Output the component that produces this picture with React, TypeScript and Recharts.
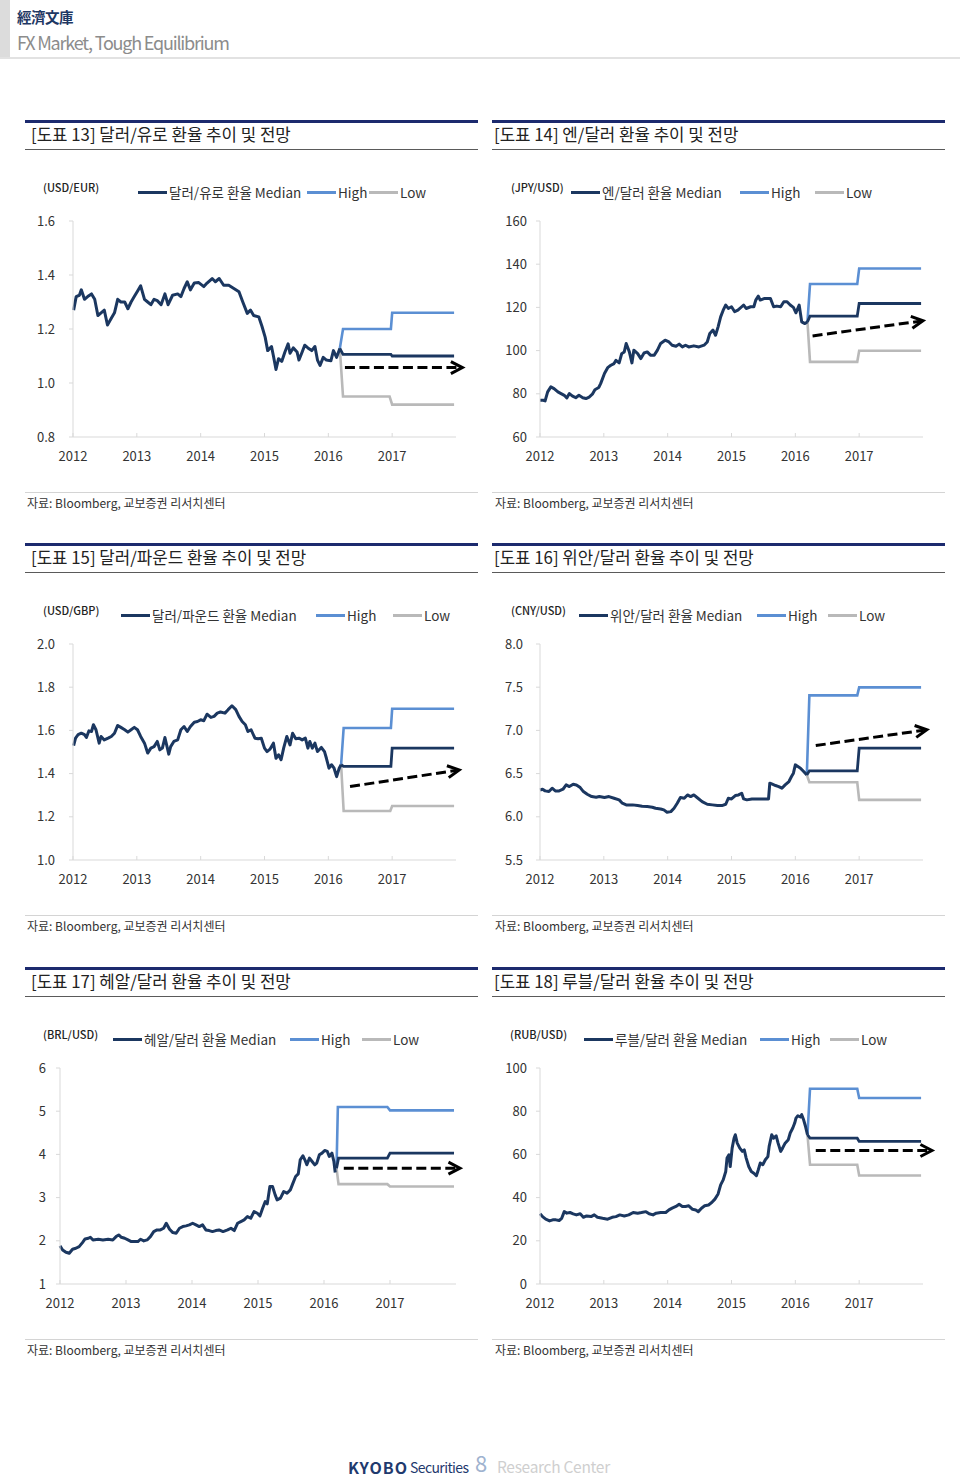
import React from 'react';
import { LineChart, Line, XAxis, YAxis, ReferenceLine } from 'recharts';

type Pt = [number, number];

const FONT = "'Noto Sans CJK KR', 'Noto Sans', sans-serif";
const NAVY = '#1b3760';
const HIGH = '#5b8fd3';
const LOW = '#b9b9b9';
const AXIS = '#d9d9d9';
const TITLE_NAVY = '#1c2a6e';

const YEAR_TICKS = [2012, 2013, 2014, 2015, 2016, 2017];
const X_DOMAIN: [number, number] = [2012, 2018];
const SOURCE_TEXT = '자료: Bloomberg, 교보증권 리서치센터';
const LEGEND_HIGH = 'High';
const LEGEND_LOW = 'Low';

// ---------- USD/EUR ----------
const eurTicks = [0.8, 1.0, 1.2, 1.4, 1.6];
const eurHist: Pt[] = [
  [2012.01, 1.27], [2012.05, 1.32], [2012.1, 1.325], [2012.13, 1.345], [2012.18, 1.31], [2012.23, 1.32],
  [2012.29, 1.33], [2012.34, 1.31], [2012.39, 1.25], [2012.44, 1.26], [2012.49, 1.27], [2012.54, 1.215],
  [2012.6, 1.24], [2012.65, 1.26], [2012.7, 1.31], [2012.75, 1.3], [2012.81, 1.3], [2012.86, 1.275],
  [2012.91, 1.3], [2012.96, 1.32], [2013.01, 1.34], [2013.06, 1.36], [2013.12, 1.31], [2013.17, 1.3],
  [2013.22, 1.29], [2013.27, 1.31], [2013.32, 1.305], [2013.38, 1.29], [2013.44, 1.33], [2013.49, 1.29],
  [2013.56, 1.325], [2013.64, 1.33], [2013.69, 1.32], [2013.74, 1.35], [2013.79, 1.375], [2013.84, 1.345],
  [2013.9, 1.37], [2013.97, 1.372], [2014.05, 1.357], [2014.1, 1.37], [2014.18, 1.387], [2014.23, 1.375],
  [2014.29, 1.387], [2014.36, 1.362], [2014.44, 1.362], [2014.52, 1.35], [2014.6, 1.338], [2014.66, 1.3],
  [2014.73, 1.258], [2014.78, 1.27], [2014.83, 1.25], [2014.91, 1.245], [2014.96, 1.21], [2015.01, 1.17],
  [2015.05, 1.12], [2015.11, 1.135], [2015.14, 1.1], [2015.18, 1.05], [2015.22, 1.09], [2015.27, 1.08],
  [2015.32, 1.115], [2015.37, 1.145], [2015.4, 1.11], [2015.45, 1.13], [2015.51, 1.115], [2015.54, 1.085],
  [2015.59, 1.115], [2015.63, 1.14], [2015.68, 1.13], [2015.74, 1.12], [2015.79, 1.135], [2015.83, 1.085],
  [2015.87, 1.065], [2015.92, 1.095], [2015.97, 1.085], [2016.04, 1.082], [2016.08, 1.12], [2016.13, 1.095],
  [2016.18, 1.128],
];
const eurHigh: Pt[] = [[2016.18, 1.128], [2016.23, 1.2], [2016.98, 1.2], [2017.0, 1.26], [2017.97, 1.26]];
const eurMedian: Pt[] = [[2016.18, 1.128], [2016.23, 1.106], [2016.98, 1.106], [2017.0, 1.1], [2017.97, 1.1]];
const eurLow: Pt[] = [[2016.18, 1.128], [2016.23, 0.95], [2016.96, 0.95], [2017.0, 0.92], [2017.97, 0.92]];
const eurArrow: Pt[] = [[2016.26, 1.057], [2018.1, 1.057]];

// ---------- JPY/USD ----------
const jpyTicks = [60, 80, 100, 120, 140, 160];
const jpyHist: Pt[] = [
  [2012.0, 77.0], [2012.05, 77.0], [2012.08, 76.7], [2012.12, 80.9], [2012.17, 83.2], [2012.22, 82.4],
  [2012.28, 80.9], [2012.33, 80.1], [2012.38, 79.3], [2012.42, 78.1], [2012.46, 80.1], [2012.51, 78.9],
  [2012.56, 78.2], [2012.61, 79.3], [2012.67, 78.2], [2012.72, 77.8], [2012.77, 78.5], [2012.82, 79.8],
  [2012.86, 81.9], [2012.92, 82.9], [2012.95, 84.7], [2013.01, 89.4], [2013.06, 92.1], [2013.11, 93.2],
  [2013.16, 94.0], [2013.19, 95.5], [2013.24, 94.3], [2013.28, 98.6], [2013.32, 99.4], [2013.35, 103.3],
  [2013.4, 99.4], [2013.44, 94.3], [2013.47, 100.2], [2013.53, 98.6], [2013.58, 96.3], [2013.63, 98.9],
  [2013.68, 99.4], [2013.73, 97.9], [2013.79, 97.9], [2013.84, 100.2], [2013.89, 103.3], [2013.96, 104.8],
  [2014.02, 104.0], [2014.07, 102.5], [2014.13, 102.0], [2014.18, 103.0], [2014.23, 101.7], [2014.28, 102.5],
  [2014.33, 101.7], [2014.41, 102.2], [2014.49, 101.7], [2014.57, 102.5], [2014.62, 104.0], [2014.66, 107.9],
  [2014.71, 109.5], [2014.75, 107.1], [2014.79, 111.0], [2014.83, 115.6], [2014.87, 118.7], [2014.91, 121.1],
  [2014.95, 119.5], [2015.0, 120.3], [2015.05, 118.0], [2015.1, 118.7], [2015.16, 120.3], [2015.19, 121.1],
  [2015.23, 119.5], [2015.3, 120.3], [2015.35, 120.3], [2015.38, 123.4], [2015.42, 125.2], [2015.45, 123.4],
  [2015.51, 124.1], [2015.56, 124.1], [2015.61, 124.1], [2015.66, 120.3], [2015.71, 120.6], [2015.77, 120.3],
  [2015.82, 122.6], [2015.87, 122.6], [2015.92, 121.1], [2015.97, 120.0], [2016.01, 117.5], [2016.06, 121.1],
  [2016.1, 113.3], [2016.15, 112.5], [2016.19, 113.3],
];
const jpyHigh: Pt[] = [[2016.19, 113.3], [2016.23, 130.8], [2016.97, 130.8], [2017.0, 138.0], [2017.97, 138.0]];
const jpyMedian: Pt[] = [[2016.19, 113.3], [2016.23, 116.0], [2016.97, 116.0], [2017.0, 121.8], [2017.97, 121.8]];
const jpyLow: Pt[] = [[2016.19, 113.3], [2016.23, 94.8], [2016.97, 94.8], [2017.0, 99.9], [2017.97, 99.9]];
const jpyArrow: Pt[] = [[2016.27, 106.8], [2018.0, 113.8]];

// ---------- USD/GBP ----------
const gbpTicks = [1.0, 1.2, 1.4, 1.6, 1.8, 2.0];
const gbpHist: Pt[] = [
  [2012.01, 1.53], [2012.04, 1.564], [2012.08, 1.58], [2012.13, 1.587], [2012.18, 1.58], [2012.21, 1.567],
  [2012.25, 1.598], [2012.29, 1.595], [2012.32, 1.626], [2012.36, 1.603], [2012.41, 1.541], [2012.44, 1.572],
  [2012.49, 1.556], [2012.55, 1.564], [2012.6, 1.572], [2012.65, 1.587], [2012.7, 1.623], [2012.75, 1.614],
  [2012.81, 1.603], [2012.86, 1.592], [2012.91, 1.603], [2012.96, 1.614], [2013.01, 1.603], [2013.06, 1.572],
  [2013.12, 1.541], [2013.17, 1.495], [2013.22, 1.518], [2013.27, 1.525], [2013.32, 1.549], [2013.36, 1.51],
  [2013.4, 1.518], [2013.44, 1.567], [2013.5, 1.49], [2013.53, 1.525], [2013.58, 1.549], [2013.64, 1.556],
  [2013.69, 1.603], [2013.74, 1.618], [2013.79, 1.595], [2013.84, 1.618], [2013.9, 1.638], [2013.95, 1.641],
  [2014.0, 1.649], [2014.05, 1.645], [2014.1, 1.675], [2014.16, 1.66], [2014.21, 1.665], [2014.26, 1.68],
  [2014.31, 1.685], [2014.38, 1.68], [2014.43, 1.696], [2014.49, 1.714], [2014.55, 1.696], [2014.6, 1.665],
  [2014.65, 1.641], [2014.7, 1.626], [2014.74, 1.595], [2014.79, 1.603], [2014.85, 1.564], [2014.9, 1.561],
  [2014.95, 1.564], [2015.0, 1.518], [2015.04, 1.502], [2015.09, 1.515], [2015.14, 1.541], [2015.18, 1.471],
  [2015.22, 1.487], [2015.26, 1.464], [2015.3, 1.518], [2015.35, 1.572], [2015.4, 1.533], [2015.44, 1.587],
  [2015.49, 1.561], [2015.54, 1.564], [2015.59, 1.556], [2015.64, 1.564], [2015.68, 1.518], [2015.71, 1.549],
  [2015.75, 1.518], [2015.79, 1.541], [2015.83, 1.502], [2015.89, 1.521], [2015.94, 1.502], [2015.97, 1.471],
  [2016.01, 1.425], [2016.05, 1.441], [2016.09, 1.425], [2016.13, 1.386], [2016.17, 1.425], [2016.2, 1.441],
];
const gbpHigh: Pt[] = [[2016.2, 1.441], [2016.24, 1.611], [2016.98, 1.611], [2017.0, 1.7], [2017.97, 1.7]];
const gbpMedian: Pt[] = [[2016.2, 1.441], [2016.24, 1.433], [2016.98, 1.433], [2017.0, 1.518], [2017.97, 1.518]];
const gbpLow: Pt[] = [[2016.2, 1.441], [2016.24, 1.227], [2016.97, 1.227], [2017.0, 1.25], [2017.97, 1.25]];
const gbpArrow: Pt[] = [[2016.34, 1.34], [2018.05, 1.417]];

// ---------- CNY/USD ----------
const cnyTicks = [5.5, 6.0, 6.5, 7.0, 7.5, 8.0];
const cnyHist: Pt[] = [
  [2012.0, 6.311], [2012.04, 6.319], [2012.08, 6.3], [2012.14, 6.292], [2012.19, 6.331], [2012.24, 6.3],
  [2012.3, 6.3], [2012.36, 6.319], [2012.41, 6.369], [2012.46, 6.35], [2012.52, 6.377], [2012.57, 6.369],
  [2012.63, 6.338], [2012.68, 6.292], [2012.74, 6.261], [2012.81, 6.234], [2012.88, 6.226], [2012.93, 6.234],
  [2013.01, 6.223], [2013.08, 6.234], [2013.16, 6.215], [2013.24, 6.196], [2013.29, 6.157], [2013.35, 6.138],
  [2013.45, 6.138], [2013.53, 6.13], [2013.6, 6.122], [2013.68, 6.118], [2013.76, 6.111], [2013.81, 6.099],
  [2013.89, 6.091], [2013.94, 6.08], [2013.99, 6.053], [2014.05, 6.06], [2014.1, 6.099], [2014.15, 6.157],
  [2014.2, 6.223], [2014.26, 6.215], [2014.31, 6.253], [2014.36, 6.234], [2014.41, 6.253], [2014.46, 6.223],
  [2014.54, 6.176], [2014.62, 6.145], [2014.7, 6.138], [2014.78, 6.13], [2014.85, 6.13], [2014.91, 6.145],
  [2014.95, 6.215], [2015.0, 6.207], [2015.06, 6.246], [2015.11, 6.253], [2015.16, 6.273], [2015.19, 6.207],
  [2015.24, 6.196], [2015.32, 6.207], [2015.4, 6.207], [2015.48, 6.207], [2015.58, 6.207], [2015.6, 6.389],
  [2015.64, 6.377], [2015.69, 6.362], [2015.74, 6.35], [2015.79, 6.331], [2015.84, 6.369], [2015.9, 6.408],
  [2015.94, 6.466], [2015.97, 6.505], [2016.0, 6.601], [2016.04, 6.582], [2016.08, 6.563], [2016.13, 6.524],
  [2016.18, 6.485],
];
const cnyHigh: Pt[] = [[2016.18, 6.485], [2016.22, 7.405], [2016.97, 7.405], [2017.0, 7.498], [2017.97, 7.498]];
const cnyMedian: Pt[] = [[2016.18, 6.485], [2016.22, 6.532], [2016.97, 6.532], [2017.0, 6.794], [2017.97, 6.794]];
const cnyLow: Pt[] = [[2016.18, 6.485], [2016.22, 6.4], [2016.97, 6.4], [2017.0, 6.196], [2017.97, 6.196]];
const cnyArrow: Pt[] = [[2016.32, 6.825], [2018.06, 7.007]];

// ---------- BRL/USD ----------
const brlTicks = [1, 2, 3, 4, 5, 6];
const brlHist: Pt[] = [
  [2012.0, 1.881], [2012.04, 1.788], [2012.09, 1.734], [2012.14, 1.711], [2012.19, 1.804], [2012.24, 1.827],
  [2012.29, 1.865], [2012.34, 1.958], [2012.38, 2.043], [2012.43, 2.059], [2012.46, 2.082], [2012.5, 2.02],
  [2012.58, 2.036], [2012.65, 2.02], [2012.73, 2.036], [2012.8, 2.02], [2012.85, 2.097], [2012.89, 2.136],
  [2012.93, 2.082], [2012.98, 2.059], [2013.03, 2.02], [2013.08, 1.981], [2013.13, 1.981], [2013.18, 1.981],
  [2013.22, 2.036], [2013.27, 1.997], [2013.32, 2.02], [2013.37, 2.097], [2013.42, 2.213], [2013.47, 2.252],
  [2013.52, 2.252], [2013.57, 2.291], [2013.61, 2.406], [2013.66, 2.267], [2013.71, 2.19], [2013.76, 2.175],
  [2013.81, 2.291], [2013.86, 2.329], [2013.91, 2.345], [2013.96, 2.368], [2014.01, 2.406], [2014.06, 2.368],
  [2014.11, 2.329], [2014.16, 2.368], [2014.21, 2.252], [2014.26, 2.237], [2014.31, 2.213], [2014.36, 2.237],
  [2014.41, 2.252], [2014.47, 2.213], [2014.54, 2.252], [2014.59, 2.291], [2014.64, 2.237], [2014.69, 2.406],
  [2014.74, 2.445], [2014.79, 2.484], [2014.84, 2.561], [2014.89, 2.522], [2014.94, 2.677], [2014.99, 2.638],
  [2015.03, 2.577], [2015.07, 2.754], [2015.11, 2.909], [2015.14, 2.855], [2015.18, 3.257], [2015.22, 3.257],
  [2015.26, 3.063], [2015.29, 2.947], [2015.34, 2.986], [2015.39, 3.141], [2015.44, 3.102], [2015.49, 3.179],
  [2015.53, 3.334], [2015.57, 3.488], [2015.61, 3.55], [2015.64, 3.875], [2015.68, 3.968], [2015.71, 3.875],
  [2015.74, 3.759], [2015.78, 3.914], [2015.82, 3.836], [2015.86, 3.759], [2015.89, 3.798], [2015.93, 3.991],
  [2015.97, 4.029], [2016.01, 4.091], [2016.05, 4.068], [2016.08, 3.952], [2016.12, 4.029], [2016.15, 3.836],
  [2016.17, 3.581],
];
const brlHigh: Pt[] = [[2016.19, 3.68], [2016.21, 5.096], [2016.96, 5.096], [2017.0, 5.019], [2017.97, 5.019]];
const brlMedian: Pt[] = [[2016.19, 3.68], [2016.22, 3.913], [2016.96, 3.913], [2017.0, 4.029], [2017.97, 4.029]];
const brlLow: Pt[] = [[2016.19, 3.68], [2016.22, 3.311], [2016.96, 3.311], [2017.0, 3.257], [2017.97, 3.257]];
const brlArrow: Pt[] = [[2016.3, 3.682], [2018.06, 3.682]];

// ---------- RUB/USD ----------
const rubTicks = [0, 20, 40, 60, 80, 100];
const rubHist: Pt[] = [
  [2012.0, 32.5], [2012.04, 31.2], [2012.09, 30.0], [2012.15, 29.2], [2012.2, 29.7], [2012.25, 29.7],
  [2012.3, 29.4], [2012.34, 30.4], [2012.38, 33.5], [2012.42, 32.8], [2012.47, 33.1], [2012.52, 32.5],
  [2012.57, 32.0], [2012.63, 32.5], [2012.68, 30.9], [2012.73, 31.5], [2012.8, 31.2], [2012.85, 32.0],
  [2012.9, 30.9], [2012.98, 30.4], [2013.06, 30.0], [2013.13, 30.9], [2013.19, 31.2], [2013.25, 32.0],
  [2013.32, 31.5], [2013.39, 32.0], [2013.46, 33.1], [2013.53, 32.8], [2013.59, 33.1], [2013.66, 33.5],
  [2013.71, 32.5], [2013.77, 32.0], [2013.82, 32.8], [2013.89, 33.1], [2013.97, 33.1], [2014.02, 34.3],
  [2014.07, 35.1], [2014.13, 35.9], [2014.18, 36.9], [2014.23, 35.9], [2014.28, 35.9], [2014.33, 36.2],
  [2014.39, 34.6], [2014.44, 34.3], [2014.48, 33.5], [2014.53, 35.1], [2014.58, 36.2], [2014.64, 36.6],
  [2014.69, 37.7], [2014.74, 39.3], [2014.79, 41.7], [2014.83, 45.9], [2014.87, 48.2], [2014.91, 52.1],
  [2014.93, 58.3], [2014.96, 59.8], [2014.98, 54.4], [2015.01, 62.9], [2015.04, 67.5], [2015.06, 69.1],
  [2015.09, 65.2], [2015.13, 62.9], [2015.17, 61.4], [2015.2, 62.1], [2015.23, 58.3], [2015.27, 54.4],
  [2015.31, 52.1], [2015.35, 51.3], [2015.39, 50.1], [2015.42, 52.9], [2015.45, 56.0], [2015.49, 55.2],
  [2015.53, 57.5], [2015.57, 59.0], [2015.59, 63.7], [2015.63, 69.1], [2015.66, 67.5], [2015.7, 68.6],
  [2015.73, 65.2], [2015.77, 61.4], [2015.8, 62.9], [2015.84, 65.2], [2015.89, 66.8], [2015.92, 69.9],
  [2015.96, 72.2], [2015.99, 74.5], [2016.01, 76.8], [2016.04, 77.9], [2016.08, 77.3], [2016.1, 78.4],
  [2016.13, 76.0], [2016.16, 72.9], [2016.19, 69.1],
];
const rubHigh: Pt[] = [[2016.19, 69.1], [2016.23, 90.4], [2016.97, 90.4], [2017.0, 86.1], [2017.97, 86.1]];
const rubMedian: Pt[] = [[2016.19, 69.1], [2016.23, 67.5], [2016.97, 67.5], [2017.0, 66.0], [2017.97, 66.0]];
const rubLow: Pt[] = [[2016.19, 69.1], [2016.23, 55.2], [2016.97, 55.2], [2017.0, 50.2], [2017.97, 50.2]];
const rubArrow: Pt[] = [[2016.32, 61.8], [2018.14, 61.8]];

type ChartCfg = {
  title: string;
  unit: string;
  legendLabel: string;
  panelX0: number;
  panelX1: number;
  titleX: number;
  sourceX: number;
  unitX: number;
  legendX: [number, number, number];
  plotX0: number;
  plotX1: number;
  yTicks: number[];
  decimals: number;
  tickGap: number;
  hist: Pt[];
  high: Pt[];
  median: Pt[];
  low: Pt[];
  arrow: Pt[];
};

const LEFT = { panelX0: 25, panelX1: 478, titleX: 31, sourceX: 27 };
const RIGHT = { panelX0: 492, panelX1: 945, titleX: 494, sourceX: 495 };

const ROWS: ChartCfg[][] = [
  [
    {
      ...LEFT, title: '[도표 13] 달러/유로 환율 추이 및 전망', unit: '(USD/EUR)', legendLabel: '달러/유로 환율 Median',
      unitX: 43, legendX: [138, 307, 369], plotX0: 73, plotX1: 456, yTicks: eurTicks, decimals: 1, tickGap: 18,
      hist: eurHist, high: eurHigh, median: eurMedian, low: eurLow, arrow: eurArrow,
    },
    {
      ...RIGHT, title: '[도표 14] 엔/달러 환율 추이 및 전망', unit: '(JPY/USD)', legendLabel: '엔/달러 환율 Median',
      unitX: 511, legendX: [571, 740, 815], plotX0: 540, plotX1: 923, yTicks: jpyTicks, decimals: 0, tickGap: 13,
      hist: jpyHist, high: jpyHigh, median: jpyMedian, low: jpyLow, arrow: jpyArrow,
    },
  ],
  [
    {
      ...LEFT, title: '[도표 15] 달러/파운드 환율 추이 및 전망', unit: '(USD/GBP)', legendLabel: '달러/파운드 환율 Median',
      unitX: 43, legendX: [121, 316, 393], plotX0: 73, plotX1: 456, yTicks: gbpTicks, decimals: 1, tickGap: 18,
      hist: gbpHist, high: gbpHigh, median: gbpMedian, low: gbpLow, arrow: gbpArrow,
    },
    {
      ...RIGHT, title: '[도표 16] 위안/달러 환율 추이 및 전망', unit: '(CNY/USD)', legendLabel: '위안/달러 환율 Median',
      unitX: 511, legendX: [579, 757, 828], plotX0: 540, plotX1: 923, yTicks: cnyTicks, decimals: 1, tickGap: 17,
      hist: cnyHist, high: cnyHigh, median: cnyMedian, low: cnyLow, arrow: cnyArrow,
    },
  ],
  [
    {
      ...LEFT, title: '[도표 17] 헤알/달러 환율 추이 및 전망', unit: '(BRL/USD)', legendLabel: '헤알/달러 환율 Median',
      unitX: 43, legendX: [113, 290, 362], plotX0: 60, plotX1: 456, yTicks: brlTicks, decimals: 0, tickGap: 14,
      hist: brlHist, high: brlHigh, median: brlMedian, low: brlLow, arrow: brlArrow,
    },
    {
      ...RIGHT, title: '[도표 18] 루블/달러 환율 추이 및 전망', unit: '(RUB/USD)', legendLabel: '루블/달러 환율 Median',
      unitX: 510, legendX: [584, 760, 830], plotX0: 540, plotX1: 923, yTicks: rubTicks, decimals: 0, tickGap: 13,
      hist: rubHist, high: rubHigh, median: rubMedian, low: rubLow, arrow: rubArrow,
    },
  ],
];
const ROW_OFFSETS = [0, 423, 847];

const toData = (pts: Pt[]) => pts.map(([x, y]) => ({ x, y }));

function ArrowShape(props: any) {
  const { x1, y1, x2, y2 } = props;
  const dx = x2 - x1;
  const dy = y2 - y1;
  const len = Math.hypot(dx, dy) || 1;
  const ux = dx / len;
  const uy = dy / len;
  const L = 11.5;
  const W = 6;
  const bx = x2 - ux * L;
  const by = y2 - uy * L;
  const p1 = `${bx - uy * W},${by + ux * W}`;
  const p2 = `${bx + uy * W},${by - ux * W}`;
  return (
    <g>
      <line x1={x1} y1={y1} x2={x2 - ux * 3} y2={y2 - uy * 3} stroke="#000" strokeWidth={3} strokeDasharray="10 4.5" />
      <polyline points={`${p1} ${x2},${y2} ${p2}`} fill="none" stroke="#000" strokeWidth={3} strokeLinejoin="miter" />
    </g>
  );
}

function Txt({ x, y, size, color, weight, spacing, lh, children }: any) {
  const m = lh || 1.6;
  return (
    <div
      style={{
        position: 'absolute', left: x, top: y - (size * m) / 2, height: size * m, lineHeight: `${size * m}px`,
        fontSize: size, color, fontWeight: weight || 400, letterSpacing: spacing || 0, whiteSpace: 'nowrap',
      }}
    >
      {children}
    </div>
  );
}

function Rule({ x0, x1, y, h, color }: any) {
  return <div style={{ position: 'absolute', left: x0, top: y, width: x1 - x0, height: h, background: color }} />;
}

function LegendItem({ x, y, color, thick, label }: any) {
  return (
    <>
      <div style={{ position: 'absolute', left: x, top: y - thick / 2, width: 29, height: thick, background: color }} />
      <Txt x={x + 31} y={y} size={13.5} color="#333">{label}</Txt>
    </>
  );
}

function FxChart({ c, dy }: { c: ChartCfg; dy: number }) {
  const plotTop = 221 + dy;
  const plotBottom = 437 + dy;
  const padL = 60;
  const padT = 20;
  const padR = 24;
  const padB = 35;
  const xAxisH = 30;
  const left = c.plotX0 - padL;
  const top = plotTop - padT;
  const width = c.plotX1 - c.plotX0 + padL + padR;
  const height = plotBottom - plotTop + padT + padB;
  const yDomain: [number, number] = [c.yTicks[0], c.yTicks[c.yTicks.length - 1]];
  const a = c.arrow;
  return (
    <div style={{ position: 'absolute', left, top, width, height }}>
      <LineChart
        width={width}
        height={height}
        margin={{ top: padT, right: padR, bottom: padB - xAxisH, left: 0 }}
        style={{ overflow: 'visible' }}
      >
        <XAxis
          type="number"
          dataKey="x"
          domain={X_DOMAIN}
          ticks={YEAR_TICKS}
          interval={0}
          height={xAxisH}
          axisLine={{ stroke: AXIS, strokeWidth: 1 }}
          tickLine={{ stroke: AXIS }}
          tickSize={-4}
          tickMargin={19}
          tick={{ fill: '#333', fontSize: 13 }}
        />
        <YAxis
          type="number"
          domain={yDomain}
          ticks={c.yTicks}
          interval={0}
          width={padL}
          axisLine={{ stroke: AXIS, strokeWidth: 1 }}
          tickLine={{ stroke: AXIS }}
          tickSize={4}
          tickMargin={c.tickGap - 4}
          tick={{ fill: '#333', fontSize: 13 }}
          tickFormatter={(v: number) => v.toFixed(c.decimals)}
        />
        <Line data={toData(c.low)} dataKey="y" type="linear" stroke={LOW} strokeWidth={2.6} dot={false} activeDot={false} isAnimationActive={false} />
        <Line data={toData(c.high)} dataKey="y" type="linear" stroke={HIGH} strokeWidth={2.6} dot={false} activeDot={false} isAnimationActive={false} />
        <Line data={toData(c.median)} dataKey="y" type="linear" stroke={NAVY} strokeWidth={2.8} dot={false} activeDot={false} isAnimationActive={false} />
        <Line data={toData(c.hist)} dataKey="y" type="linear" stroke={NAVY} strokeWidth={3} dot={false} activeDot={false} isAnimationActive={false} strokeLinejoin="round" />
        <ReferenceLine
          segment={[{ x: a[0][0], y: a[0][1] }, { x: a[1][0], y: a[1][1] }]}
          ifOverflow="visible"
          shape={ArrowShape}
        />
      </LineChart>
    </div>
  );
}

function Panel({ c, dy }: { c: ChartCfg; dy: number }) {
  return (
    <>
      <Rule x0={c.panelX0} x1={c.panelX1} y={120 + dy} h={2.5} color={TITLE_NAVY} />
      <Txt x={c.titleX} y={134.5 + dy} size={16.8} color="#222">{c.title}</Txt>
      <Rule x0={c.panelX0} x1={c.panelX1} y={149 + dy} h={1.2} color="#5a5a5a" />
      <Txt x={c.unitX} y={188 + dy} size={11} color="#222" weight={500}>{c.unit}</Txt>
      <LegendItem x={c.legendX[0]} y={192.5 + dy} color={NAVY} thick={3.5} label={c.legendLabel} />
      <LegendItem x={c.legendX[1]} y={192.5 + dy} color={HIGH} thick={2.6} label={LEGEND_HIGH} />
      <LegendItem x={c.legendX[2]} y={192.5 + dy} color={LOW} thick={2.6} label={LEGEND_LOW} />
      <FxChart c={c} dy={dy} />
      <Rule x0={c.panelX0} x1={c.panelX1} y={492 + dy} h={1} color="#d4d4d4" />
      <Txt x={c.sourceX} y={503 + dy} size={12} color="#333">{SOURCE_TEXT}</Txt>
    </>
  );
}

export default function App() {
  return (
    <div
      style={{
        position: 'absolute', left: 0, top: 0, width: 960, height: 1480, background: '#fff',
        fontFamily: FONT, overflow: 'hidden',
      }}
    >
      <div style={{ position: 'absolute', left: 0, top: 0, width: 10, height: 57, background: '#dcdcdc' }} />
      <Rule x0={0} x1={960} y={57} h={1.5} color="#e2e2e2" />
      <Txt x={17} y={16.5} size={14.5} color="#1f3864" weight={700} spacing={-0.5}>經濟文庫</Txt>
      <Txt x={17} y={42} size={18} color="#8c8c8c" spacing={-1.2}>FX Market, Tough Equilibrium</Txt>

      {ROWS.map((row, r) => row.map((c, i) => <Panel key={`${r}-${i}`} c={c} dy={ROW_OFFSETS[r]} />))}

      <Txt x={348} y={1467} size={16} color="#1f3a6e" weight={700} spacing={1} lh={1.5}>KYOBO</Txt>
      <Txt x={410} y={1467} size={14} color="#1f3a6e" spacing={-0.6} lh={1.5}>Securities</Txt>
      <Txt x={475} y={1462} size={22} color="#9fb3cf" lh={1.5}>8</Txt>
      <Txt x={497} y={1467} size={15.5} color="#cfcfcf" spacing={-0.3} lh={1.5}>Research Center</Txt>
    </div>
  );
}
